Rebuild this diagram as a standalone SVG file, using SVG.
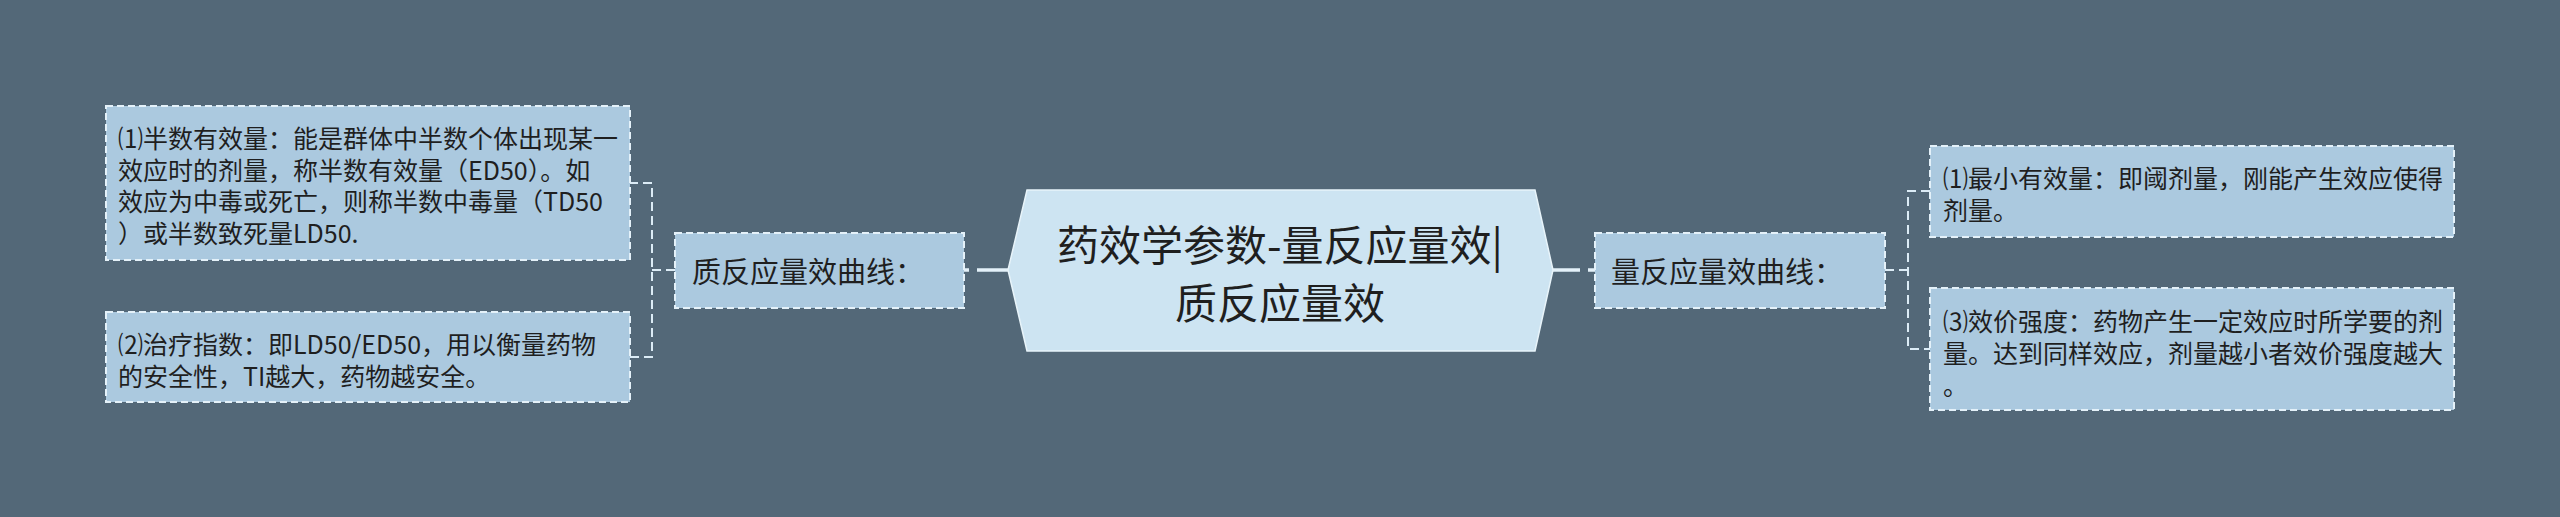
<svg xmlns="http://www.w3.org/2000/svg" width="2560" height="517" viewBox="0 0 2560 517">
<style>
text{font-family:"Noto Sans CJK SC","Noto Sans",sans-serif;fill:#1f1f1f;dominant-baseline:central}
.leaf{fill:#abc9df;stroke:#e4f1f9;stroke-width:2;stroke-dasharray:7 4}
.mid{fill:#abc9df;stroke:#e4f1f9;stroke-width:2;stroke-dasharray:7 4}
.lt{font-size:25px}
.mt{font-size:29px}
.ct{font-size:42px;text-anchor:middle}
.br{fill:none;stroke:#dcecf6;stroke-width:2;stroke-dasharray:9 5}
.main{fill:none;stroke:#e4f1f9;stroke-width:3.5}
</style>
<rect width="2560" height="517" fill="#536878"/>
<g id="connectors">
<line class="main" x1="1008" y1="270" x2="964" y2="270" stroke-dasharray="31 8"/>
<line class="main" x1="1553" y1="270" x2="1595" y2="270" stroke-dasharray="27 8"/>
<path class="br" d="M675 270 H652 M629 183 H652 V357 H629"/>
<path class="br" d="M1885 270 H1908 M1930 191 H1908 V349 H1930"/>
</g>
<g id="center">
<polygon points="1027,190 1535,190 1553,270 1535,351 1027,351 1008,270" fill="#cde4f2" stroke="#e8f4fa" stroke-width="1.5"/>
<text class="ct" x="1280" y="242">药效学参数-量反应量效|</text>
<text class="ct" x="1280" y="300">质反应量效</text>
</g>
<g id="mid-left">
<rect class="mid" x="675" y="233" width="289" height="75"/>
<text class="mt" x="692" y="270">质反应量效曲线：</text>
</g>
<g id="mid-right">
<rect class="mid" x="1595" y="233" width="290" height="75"/>
<text class="mt" x="1611" y="270">量反应量效曲线：</text>
</g>
<g id="leaf-l1">
<rect class="leaf" x="106" y="106" width="524" height="154"/>
<text class="lt" x="118" y="137">⑴半数有效量：能是群体中半数个体出现某一</text>
<text class="lt" x="118" y="168.7">效应时的剂量，称半数有效量（ED50）。如</text>
<text class="lt" x="118" y="200.4">效应为中毒或死亡，则称半数中毒量（TD50</text>
<text class="lt" x="118" y="232">）或半数致死量LD50.</text>
</g>
<g id="leaf-l2">
<rect class="leaf" x="106" y="312" width="524" height="90"/>
<text class="lt" x="118" y="343">⑵治疗指数：即LD50/ED50，用以衡量药物</text>
<text class="lt" x="118" y="375">的安全性，TI越大，药物越安全。</text>
</g>
<g id="leaf-r1">
<rect class="leaf" x="1930" y="146" width="524" height="91"/>
<text class="lt" x="1943" y="177">⑴最小有效量：即阈剂量，刚能产生效应使得</text>
<text class="lt" x="1943" y="209">剂量。</text>
</g>
<g id="leaf-r2">
<rect class="leaf" x="1930" y="288" width="524" height="122"/>
<text class="lt" x="1943" y="320">⑶效价强度：药物产生一定效应时所学要的剂</text>
<text class="lt" x="1943" y="352">量。达到同样效应，剂量越小者效价强度越大</text>
<text class="lt" x="1943" y="384">。</text>
</g>
</svg>
